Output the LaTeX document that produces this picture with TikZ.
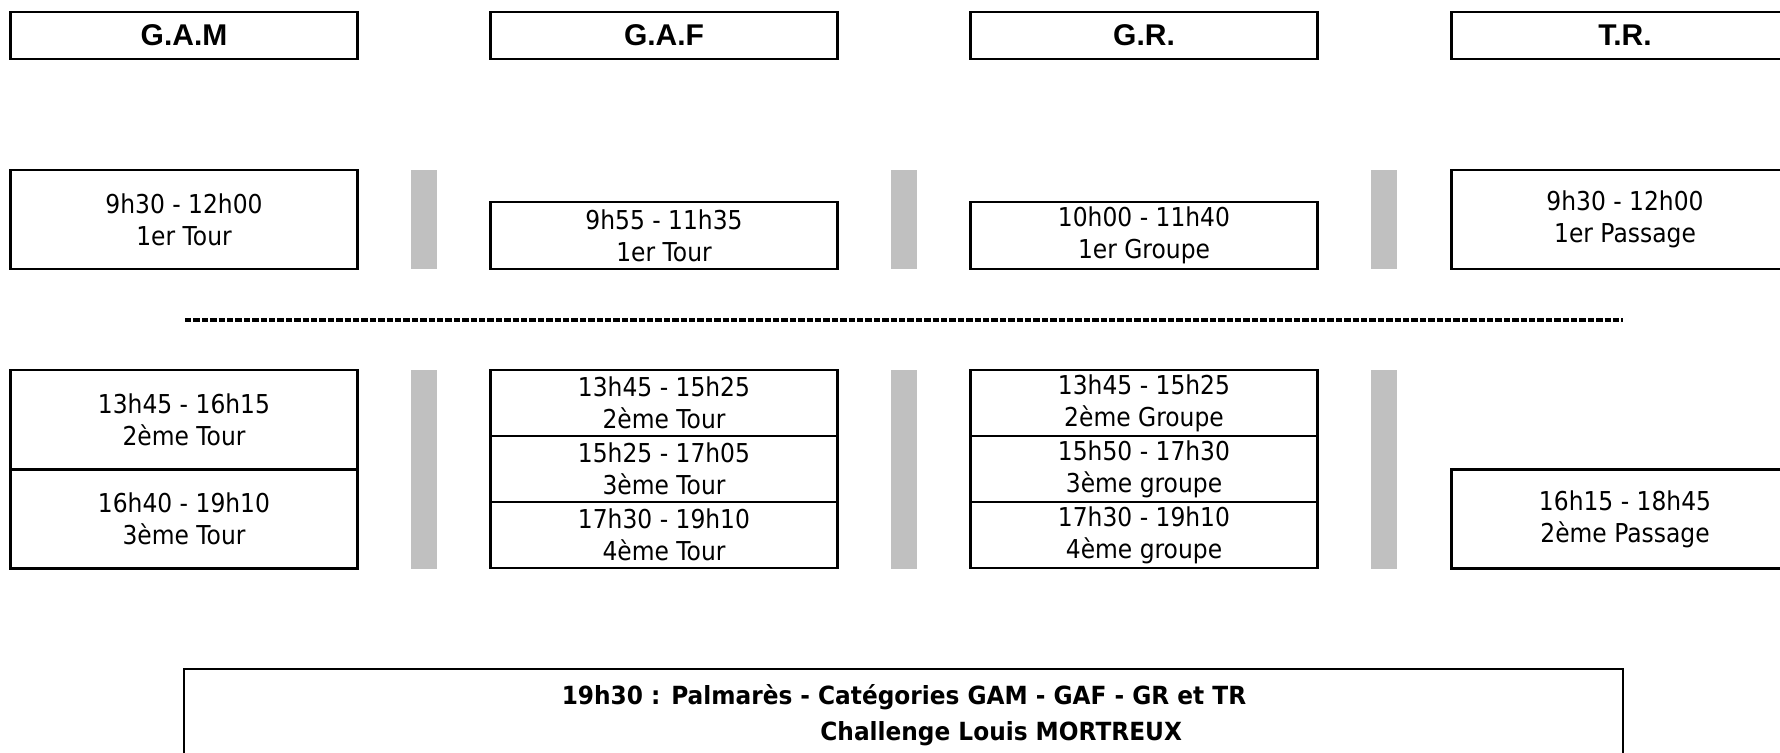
\documentclass[tikz,border=0pt]{standalone}
\usepackage{fontspec}
\newfontfamily\headfont{Liberation Sans}
\newfontfamily\slotfont[FakeStretch=0.9]{DejaVu Sans}
\newfontfamily\palmfont[FakeStretch=0.93]{DejaVu Sans}
\definecolor{bargray}{HTML}{C0C0C0}
\begin{document}
\begin{tikzpicture}[x=0.5pt,y=-0.5pt,
    box/.style={draw, line width=1.4pt, inner sep=0pt, minimum width=173.5pt, align=center,
      font={\slotfont\fontsize{13}{16}\selectfont}},
    headbox/.style={box, minimum height=23.5pt, font={\headfont\bfseries\fontsize{15}{18}\selectfont}},
    tallbox/.style={box, minimum height=49.5pt},
    shortbox/.style={box, minimum height=33.5pt},
    cellbox/.style={box, minimum height=33pt},
    bar/.style={fill=bargray, inner sep=0pt, minimum width=13pt},
    palmtext/.style={inner sep=0pt, anchor=base, font={\palmfont\bfseries\fontsize{12.5}{15}\selectfont}}]
      \useasboundingbox (0,0) rectangle (1780,752);
      \draw
        (184,35.5) node[headbox] (gam){G.A.M}
        (664,35.5) node[headbox] (gaf){G.A.F}
        (1144,35.5) node[headbox] (gr){G.R.}
        (1625,35.5) node[headbox] (tr){T.R.};
      \draw
        (184,219.5) node[tallbox] (gam1){9h30 - 12h00\\1er Tour}
        (664,235.5) node[shortbox] (gaf1){9h55 - 11h35\\1er Tour}
        (1144,235.5) node[shortbox] (gr1){10h00 - 11h40\\1er Groupe}
        (1625,219.5) node[tallbox] (tr1){9h30 - 12h00\\1er Passage};
      \draw
        (424,219.5) node[bar, minimum height=49.5pt] (bar1a){}
        (904,219.5) node[bar, minimum height=49.5pt] (bar1b){}
        (1384,219.5) node[bar, minimum height=49.5pt] (bar1c){};
      \coordinate (dashl) at (185,320);
      \coordinate (dashr) at (1623,320);
      \draw[line width=1.6pt, dash pattern=on 3.2pt off 1pt] (dashl) -- (dashr);
      \draw
        (184,419.5) node[tallbox] (gam2){13h45 - 16h15\\2ème Tour}
        (184,519) node[tallbox] (gam3){16h40 - 19h10\\3ème Tour}
        (664,403) node[cellbox] (gaf2){13h45 - 15h25\\2ème Tour}
        (664,469) node[cellbox] (gaf3){15h25 - 17h05\\3ème Tour}
        (664,535) node[cellbox] (gaf4){17h30 - 19h10\\4ème Tour}
        (1144,403) node[cellbox] (gr2){13h45 - 15h25\\2ème Groupe}
        (1144,469) node[cellbox] (gr3){15h50 - 17h30\\3ème groupe}
        (1144,535) node[cellbox] (gr4){17h30 - 19h10\\4ème groupe}
        (1625,519) node[tallbox] (tr2){16h15 - 18h45\\2ème Passage};
      \draw
        (424,469.5) node[bar, minimum height=99.5pt] (bar2a){}
        (904,469.5) node[bar, minimum height=99.5pt] (bar2b){}
        (1384,469.5) node[bar, minimum height=99.5pt] (bar2c){};
      \draw
        (903.5,739) node[draw, line width=0.6pt, minimum width=719.5pt, minimum height=70pt] (palm){}
        (904,704) node[palmtext] (palm1){19h30 : Palmarès - Catégories GAM - GAF - GR et TR}
        (820,740) node[palmtext, anchor=base west] (palm2){Challenge Louis MORTREUX};
    \end{tikzpicture}
\end{document}
